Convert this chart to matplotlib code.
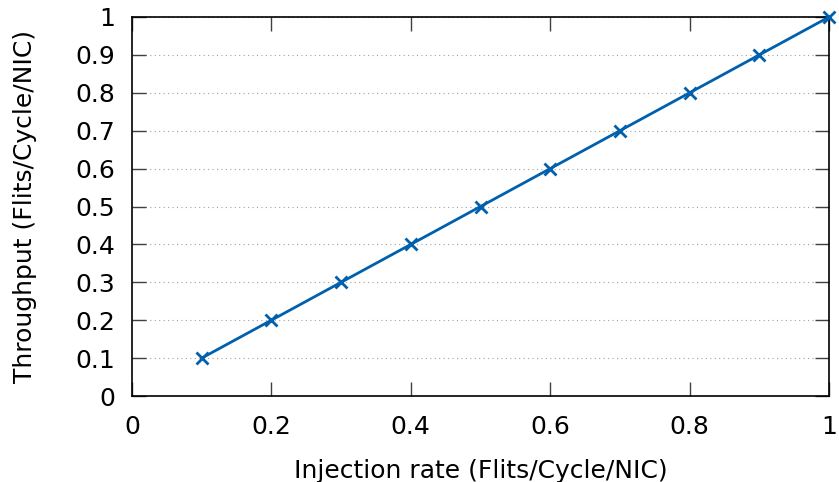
import matplotlib
matplotlib.use("Agg")
import matplotlib.pyplot as plt

# injection rate vs throughput
injection = [0.1, 0.2, 0.3, 0.4, 0.5, 0.6, 0.7, 0.8, 0.9, 1.0]
throughput = [0.1, 0.2, 0.3, 0.4, 0.5, 0.6, 0.7, 0.8, 0.9, 1.0]

x_ticks = [0, 0.2, 0.4, 0.6, 0.8, 1.0]
x_labels = ["0", "0.2", "0.4", "0.6", "0.8", "1"]
y_ticks = [0, 0.1, 0.2, 0.3, 0.4, 0.5, 0.6, 0.7, 0.8, 0.9, 1.0]
y_labels = ["0", "0.1", "0.2", "0.3", "0.4", "0.5", "0.6", "0.7", "0.8", "0.9", "1"]

plt.rcParams["font.family"] = "DejaVu Sans"
plt.rcParams["font.size"] = 18

fig = plt.figure(figsize=(8.39, 4.82), dpi=100)
ax = fig.add_axes([132 / 839, 1 - 396 / 482, (829 - 132) / 839, (396 - 17) / 482])

ax.plot(injection, throughput, color="#0060ad", linewidth=2, marker="x",
        markersize=9, markeredgewidth=2, clip_on=False, zorder=3)

ax.set_xlim(0, 1)
ax.set_ylim(0, 1)
ax.set_xticks(x_ticks)
ax.set_xticklabels(x_labels)
ax.set_yticks(y_ticks)
ax.set_yticklabels(y_labels)

ax.grid(axis="y", linestyle=(0, (1, 3)), color="#a0a0a0", linewidth=0.8)
ax.tick_params(direction="in", length=10, width=1, color="#404040",
               top=True, right=True, pad=12)
ax.tick_params(axis="x", pad=14)
for s in ax.spines.values():
    s.set_linewidth(1.2)

ax.set_xlabel("Injection rate (Flits/Cycle/NIC)", labelpad=14)
ax.set_ylabel("Throughput (Flits/Cycle/NIC)", labelpad=28)

fig.savefig("out.png", dpi=100)
